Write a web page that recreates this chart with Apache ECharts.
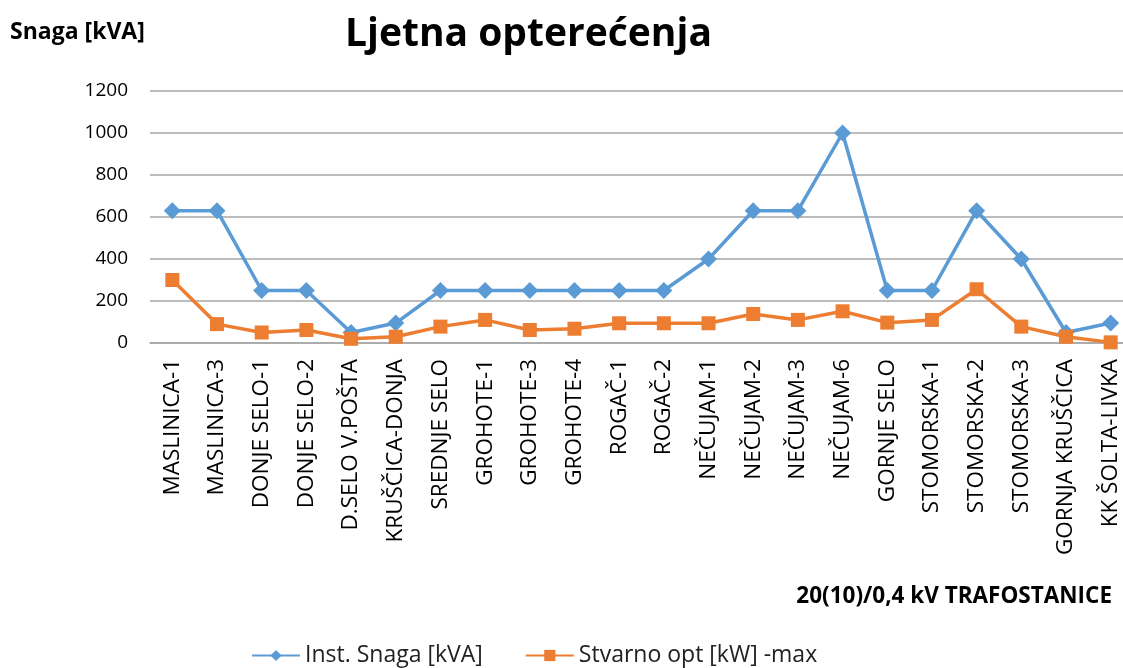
<!DOCTYPE html>
<html>
<head>
<meta charset="utf-8">
<script src="https://cdn.jsdelivr.net/npm/echarts@6/dist/echarts.min.js"></script>
<style>
  html, body { margin: 0; padding: 0; background: #fff; overflow: hidden; }
  /* graf je malo siri od prozora, desni rub je odrezan kao u originalu */
  #chart { width: 1135px; height: 668px; }
</style>
</head>
<body>
<div id="chart"></div>
<script>
// trafostanice (x os)
var categories = ['MASLINICA-1', 'MASLINICA-3', 'DONJE SELO-1', 'DONJE SELO-2', 'D.SELO V.POŠTA',
    'KRUŠČICA-DONJA', 'SREDNJE SELO', 'GROHOTE-1', 'GROHOTE-3', 'GROHOTE-4', 'ROGAČ-1', 'ROGAČ-2',
    'NEČUJAM-1', 'NEČUJAM-2', 'NEČUJAM-3', 'NEČUJAM-6', 'GORNJE SELO', 'STOMORSKA-1', 'STOMORSKA-2',
    'STOMORSKA-3', 'GORNJA KRUŠČICA', 'KK ŠOLTA-LIVKA'];
// instalirana snaga
var instSnaga = [630, 630, 250, 250, 50, 95, 250, 250, 250, 250, 250, 250,
    400, 630, 630, 1000, 250, 250, 630, 400, 50, 95];
// stvarno opterecenje max
var stvarnoOpt = [300, 90, 50, 62, 20, 30, 78, 110, 62, 68, 94, 94,
    94, 138, 110, 151, 97, 110, 256, 78, 30, 3];
var yTicks = [0, 200, 400, 600, 800, 1000, 1200];

var font = '"Open Sans", "Liberation Sans", sans-serif';
var myChart = echarts.init(document.getElementById('chart'));

var option = {
    animation: false,
    textStyle: { fontFamily: font },
    title: [
        {   // naslov
            text: 'Ljetna opterećenja',
            left: 345, top: 15, padding: 0,
            textStyle: { fontSize: 39, fontWeight: 'bold', color: '#000', fontFamily: font }
        },
        {
            text: 'Snaga [kVA]',
            left: 10, top: 21, padding: 0,
            textStyle: { fontSize: 23, fontWeight: 'bold', color: '#000', fontFamily: font }
        },
        {
            text: '20(10)/0,4 kV TRAFOSTANICE',
            right: 23, top: 585, padding: 0,
            textStyle: { fontSize: 22.5, fontWeight: 'bold', color: '#000', fontFamily: font }
        }
    ],
    legend: {
        top: 639,
        left: 246,
        itemWidth: 48,
        itemHeight: 14,
        itemGap: 42,
        textStyle: { fontSize: 23, color: '#222', fontFamily: font },
        data: ['Inst. Snaga [kVA]', 'Stvarno opt [kW] -max']
    },
    grid: { left: 150, right: 2, top: 91, bottom: 325 },
    xAxis: {
        type: 'category',
        data: categories,
        boundaryGap: true,
        axisLine: { lineStyle: { color: '#a6a6a6', width: 1.5 } },
        axisTick: { show: false },
        axisLabel: {
            rotate: 90, interval: 0, margin: 16,
            fontSize: 22.5, color: '#000', fontFamily: font
        }
    },
    yAxis: {
        type: 'value',
        min: 0, max: 1200, interval: 200,
        axisLine: { show: false },
        axisTick: { show: false },
        splitLine: { lineStyle: { color: '#a6a6a6', width: 1.5 } },
        axisLabel: {
            margin: 22, fontSize: 19, color: '#000', fontFamily: font,
            formatter: function (v) { return yTicks.indexOf(v) >= 0 ? v : ''; }
        }
    },
    series: [
        {
            name: 'Inst. Snaga [kVA]',
            type: 'line',
            data: instSnaga,
            symbol: 'diamond',
            symbolSize: 17,
            lineStyle: { color: '#5B9BD5', width: 3.5 },
            itemStyle: { color: '#5B9BD5' }
        },
        {
            name: 'Stvarno opt [kW] -max',
            type: 'line',
            data: stvarnoOpt,
            symbol: 'rect',
            symbolSize: 14,
            lineStyle: { color: '#ED7D31', width: 3.5 },
            itemStyle: { color: '#ED7D31' }
        }
    ]
};
myChart.setOption(option);
</script>
</body>
</html>
